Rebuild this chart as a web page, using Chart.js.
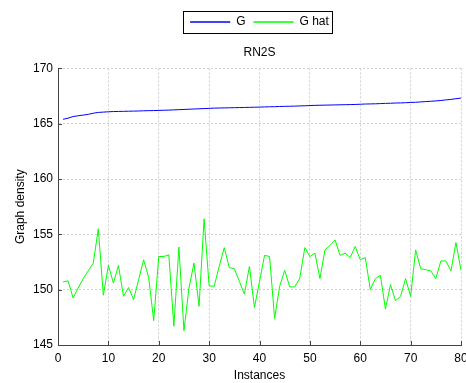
<!DOCTYPE html>
<html>
<head>
<meta charset="utf-8">
<script src="https://cdn.jsdelivr.net/npm/chart.js@4.4.1/dist/chart.umd.min.js"></script>
<style>
  html, body { margin: 0; padding: 0; background: #fff; }
  #wrap { width: 466px; height: 383px; }
</style>
</head>
<body>
<div id="wrap"><canvas id="grafico" width="466" height="383"></canvas></div>
<script>
// Datos
const gValues = [
  165.40, 165.50, 165.65, 165.72, 165.78, 165.85, 165.95, 166.02, 166.05, 166.08,
  166.10, 166.11, 166.12, 166.13, 166.14, 166.15, 166.17, 166.18, 166.19, 166.20,
  166.22, 166.23, 166.25, 166.27, 166.29, 166.31, 166.33, 166.35, 166.37, 166.39,
  166.41, 166.42, 166.43, 166.44, 166.45, 166.46, 166.47, 166.48, 166.49, 166.50,
  166.52, 166.53, 166.54, 166.56, 166.57, 166.58, 166.59, 166.61, 166.62, 166.64,
  166.66, 166.67, 166.68, 166.69, 166.70, 166.71, 166.72, 166.73, 166.74, 166.76,
  166.78, 166.79, 166.80, 166.82, 166.84, 166.85, 166.87, 166.88, 166.90, 166.92,
  166.94, 166.97, 167.00, 167.03, 167.06, 167.10, 167.15, 167.20, 167.26, 167.32
];
const gHatValues = [
  150.70, 150.80, 149.25, 150.15, 151.00, 151.70, 152.40, 155.50, 149.50, 152.20,
  150.60, 152.20, 149.40, 150.20, 149.10, 150.90, 152.70, 151.10, 147.20, 153.00,
  153.00, 153.15, 146.70, 153.85, 146.30, 150.15, 152.40, 148.50, 156.40, 150.35,
  150.30, 152.10, 153.80, 152.00, 151.90, 150.75, 149.60, 152.10, 148.40, 150.75,
  153.10, 153.00, 147.40, 150.30, 151.75, 150.25, 150.25, 151.05, 153.80, 153.00,
  153.30, 151.00, 153.60, 154.00, 154.50, 153.10, 153.30, 152.90, 153.90, 152.70,
  152.90, 150.00, 151.00, 151.30, 148.25, 150.45, 149.00, 149.40, 151.00, 149.40,
  153.60, 151.90, 151.80, 151.70, 151.00, 152.60, 152.60, 151.70, 154.25, 151.75
];
const xTicks = [0, 10, 20, 30, 40, 50, 60, 70, 80];
const yTicks = [145, 150, 155, 160, 165, 170];
const seriesNames = ['G', 'G hat'];

const fuente = "'Liberation Sans', Arial, sans-serif";

// Recuadro alrededor de la leyenda
const marcoLeyenda = {
  id: 'marcoLeyenda',
  afterDraw(chart) {
    const boxes = chart.legend.legendHitBoxes;
    if (!boxes || !boxes.length) return;
    const left = boxes[0].left - 7;
    const last = boxes[boxes.length - 1];
    const right = last.left + last.width + 3;
    const top = boxes[0].top - 5;
    const bottom = boxes[0].top + boxes[0].height + 5;
    const ctx = chart.ctx;
    ctx.save();
    ctx.strokeStyle = '#000';
    ctx.lineWidth = 1;
    ctx.strokeRect(Math.round(left) + 0.5, Math.round(top) + 0.5, Math.round(right - left), Math.round(bottom - top));
    ctx.restore();
  }
};

// Marcas de los ejes hacia adentro (estilo MATLAB)
const marcasInternas = {
  id: 'marcasInternas',
  afterDatasetsDraw(chart) {
    const { ctx, scales: { x, y } } = chart;
    ctx.save();
    ctx.strokeStyle = '#444';
    ctx.lineWidth = 1;
    ctx.beginPath();
    xTicks.forEach(v => {
      const px = Math.round(x.getPixelForValue(v)) + 0.5;
      ctx.moveTo(px, y.bottom);
      ctx.lineTo(px, y.bottom - 4);
    });
    yTicks.forEach(v => {
      const py = Math.round(y.getPixelForValue(v)) + 0.5;
      ctx.moveTo(x.left, py);
      ctx.lineTo(x.left + 4, py);
    });
    ctx.stroke();
    ctx.restore();
  }
};

const ctx = document.getElementById('grafico').getContext('2d');
new Chart(ctx, {
  type: 'line',
  data: {
    datasets: [
      {
        label: seriesNames[0],
        data: gValues.map((v, i) => ({ x: i + 1, y: v })),
        borderColor: '#0000ff',
        backgroundColor: '#0000ff',
        borderWidth: 1,
        pointRadius: 0,
        tension: 0
      },
      {
        label: seriesNames[1],
        data: gHatValues.map((v, i) => ({ x: i + 1, y: v })),
        borderColor: '#00ff00',
        backgroundColor: '#00ff00',
        borderWidth: 1,
        pointRadius: 0,
        tension: 0
      }
    ]
  },
  options: {
    responsive: false,
    animation: false,
    layout: { padding: { top: 8, right: 0, left: 0, bottom: 0 } },
    scales: {
      x: {
        type: 'linear',
        min: 0,
        max: 80,
        afterBuildTicks: (axis) => { axis.ticks = xTicks.map(v => ({ value: v })); },
        ticks: { color: '#000', font: { family: fuente, size: 12 }, padding: 6, maxRotation: 0 },
        grid: { color: '#d0d0d0', drawTicks: false },
        border: { display: true, color: '#444', width: 1, dash: [2, 2] },
        title: { display: true, text: 'Instances', color: '#000', font: { family: fuente, size: 12 }, padding: { top: 2, bottom: 0 } },
        afterFit: (scale) => { scale.height = 38; scale.paddingRight = 5; }
      },
      y: {
        min: 145,
        max: 170,
        afterBuildTicks: (axis) => { axis.ticks = yTicks.map(v => ({ value: v })); },
        ticks: { color: '#000', font: { family: fuente, size: 12 }, padding: 5 },
        grid: { color: '#d0d0d0', drawTicks: false },
        border: { display: true, color: '#444', width: 1, dash: [2, 2] },
        title: { display: true, text: 'Graph density', color: '#000', font: { family: fuente, size: 12 }, padding: { top: 13, bottom: 0 } },
        afterFit: (scale) => { scale.width = 58; }
      }
    },
    plugins: {
      legend: {
        position: 'top',
        fullSize: false,
        weight: 3000,
        labels: {
          color: '#000',
          font: { family: fuente, size: 12 },
          boxWidth: 40,
          boxHeight: 0,
          padding: 8
        }
      },
      title: {
        display: true,
        fullSize: false,
        text: 'RN2S',
        color: '#000',
        font: { family: fuente, size: 12, weight: 'normal' },
        padding: { top: 7, bottom: 9 }
      },
      tooltip: { enabled: false }
    }
  },
  plugins: [marcoLeyenda, marcasInternas]
});
</script>
</body>
</html>
